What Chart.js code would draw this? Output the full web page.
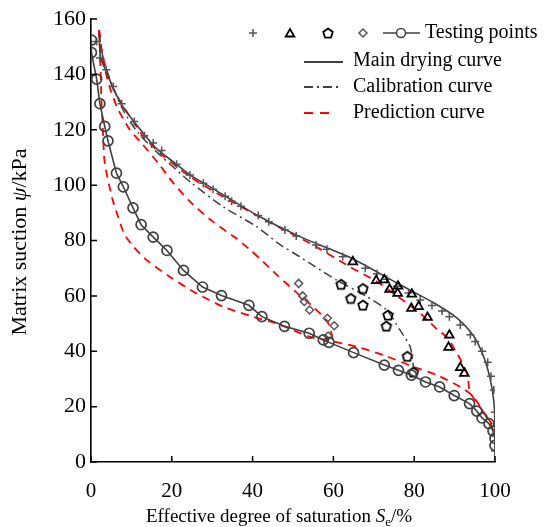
<!DOCTYPE html>
<html>
<head>
<meta charset="utf-8">
<script src="https://cdn.jsdelivr.net/npm/chart.js@4.4.0/dist/chart.umd.min.js"></script>
<style>
  html, body { margin: 0; padding: 0; background: #fff; }
  #wrap { width: 544px; height: 527px; }
</style>
</head>
<body>
<div id="wrap"><canvas id="chart" width="544" height="527"></canvas></div>
<script>
// tick labels
const xTicks = [0, 20, 40, 60, 80, 100];
const yTicks = [0, 20, 40, 60, 80, 100, 120, 140, 160];

// testing points (circles joined by a line)
const testX = [0.1, 0.1, 1.4, 2.2, 3.4, 4.2, 6.3, 8.0, 10.4, 12.4, 15.4, 18.8, 22.9, 27.6, 32.3, 39.1, 42.3, 47.9, 54.0, 57.5, 58.9, 65.0, 72.6, 76.1, 79.3, 82.8, 86.3, 89.9, 93.7, 95.5, 96.8, 98.5, 99.5, 100, 100];
const testY = [152.4, 147.9, 138.3, 129.4, 121.2, 116, 104.3, 99.4, 91.8, 85.7, 81.2, 76.4, 69.2, 63.2, 60.1, 56.6, 52.5, 49, 46.5, 44.1, 43.2, 39.5, 35, 33.1, 31.4, 28.9, 27.1, 24, 21.1, 18.4, 15.9, 13.9, 11.2, 8.5, 6];

// + markers along the main drying curve
const plusX = [1.4, 2.2, 3.8, 5.5, 7.6, 10.7, 13.2, 15.4, 17.5, 21.2, 24.5, 27.8, 30.2, 33.2, 34.8, 37.1, 41.4, 44.0, 48.0, 50.8, 55.7, 58.4, 62.3, 67.9, 70.8, 73.2, 75.7, 78.6, 81.5, 84.4, 86.9, 88.7, 91.4, 93.9, 95.1, 96.8, 98.2, 99.0, 99.7, 100, 100, 100];
const plusY = [151.9, 145.9, 141.7, 135.6, 129.4, 123, 117.8, 115.2, 112.5, 107.5, 103.7, 100.7, 98.5, 96, 94.2, 92.4, 89, 86.8, 83.8, 81.6, 78.4, 76.8, 74.1, 70, 68, 66, 63.5, 61, 58.5, 56.5, 54.5, 52.5, 49.5, 46, 43.5, 40, 36, 31, 26, 18, 10, 4];

// triangles
const triX = [64.8, 70.6, 72.6, 73.9, 76.0, 75.9, 79.4, 79.3, 81.1, 83.3, 88.7, 88.5, 91.4, 92.4];
const triY = [72.3, 65.5, 65.8, 62.4, 63.5, 60.9, 60.6, 55.5, 56.1, 52.2, 45.8, 41.4, 34.1, 32];

// pentagons
const pentX = [61.9, 67.3, 64.3, 67.3, 73.5, 73.1, 78.3, 79.8];
const pentY = [64.2, 62.7, 59.1, 56.7, 53.1, 49.1, 38.2, 32.5];

// diamonds
const diaX = [51.4, 52.4, 52.8, 54.1, 58.5, 60.2, 58.7];
const diaY = [64.5, 60.0, 58.0, 54.9, 51.9, 49.2, 45.5];

// main drying curve
const mainX = [2, 2.4, 3.8, 5.5, 7.6, 10.9, 12.9, 16, 20.8, 24.5, 30.7, 41, 51.7, 64.5, 76.5, 84.8, 90.6, 94.7, 97.2, 98.8, 99.7, 100, 100];
const mainY = [155, 146, 141, 135, 129, 122.4, 118.8, 113.5, 107.9, 103.7, 98.3, 89.2, 81.4, 73.6, 64, 57.5, 52, 45.5, 38, 30, 22, 13, 0];

// calibration curve
const calX = [2, 3, 5, 8, 11.7, 17.5, 24.7, 32.7, 41, 46.8, 51.7, 55, 60.8, 68.3, 73.2, 76.5, 79, 79.8];
const calY = [155, 146, 137, 127, 118.8, 110.3, 101, 92.2, 85, 78.5, 74.1, 71, 65.7, 59.7, 54.9, 47.6, 41.6, 34.4];

// prediction curves
const predUpX = [2, 2.6, 4.2, 5.9, 8, 10.9, 13, 17.5, 24.5, 32.7, 43.9, 54.2, 64.1, 70.8, 75.7, 81.5, 85.6, 88.1, 90.6, 93.1, 93.9, 99.7, 100];
const predUpY = [156, 149, 139.2, 133.8, 128.4, 122, 117.5, 111, 103, 95.8, 86.8, 79, 70.5, 65.1, 60, 53.7, 48, 45, 39.2, 32, 25, 12.7, 10];
const predMidX = [2, 3, 4.5, 6.5, 9.6, 12.5, 16.6, 20.4, 24.9, 30, 36.1, 39.4, 42, 46, 50.9, 55, 58.4, 59.6, 60];
const predMidY = [156, 145, 136, 128, 120, 115.2, 108, 100.7, 93.5, 87, 80.6, 76.6, 73.2, 67.6, 61.2, 56, 51, 46, 43.5];
const predLowX = [2, 2.3, 2.6, 3, 3.4, 5.3, 6.7, 8.2, 10.5, 13.8, 19.5, 26, 32.7, 40.2, 46, 54.2, 58.4, 65.8, 72.4, 79.8, 85.6, 91.4, 94.7, 98.8, 100];
const predLowY = [156, 145, 130, 118, 108, 95, 88.6, 82.5, 77.8, 72.9, 66.9, 61, 56.1, 52.4, 50, 45.2, 44, 41.6, 38.6, 34.4, 31.4, 27.1, 23.5, 13.9, 10];

const pts = (xs, ys) => xs.map((x, i) => ({ x: x, y: ys[i] }));

const FONT = "'Liberation Serif', 'Times New Roman', serif";
const GRAY = '#404040';
const RED = '#ff0000';

function pentagon(r, lw, color) {
  const size = Math.ceil(2 * r + 2 * lw + 2);
  const c = document.createElement('canvas');
  c.width = size; c.height = size;
  const g = c.getContext('2d');
  g.strokeStyle = color; g.lineWidth = lw;
  g.beginPath();
  for (let i = 0; i < 5; i++) {
    const a = -Math.PI / 2 + i * 2 * Math.PI / 5;
    const px = size / 2 + r * Math.cos(a), py = size / 2 + r * Math.sin(a) + 0.5;
    i ? g.lineTo(px, py) : g.moveTo(px, py);
  }
  g.closePath(); g.stroke();
  return c;
}
const pentImg = pentagon(5, 1.8, '#000');

// inward ticks, legend and axis titles
const extras = {
  id: 'extras',
  afterDraw(chart) {
    const ctx = chart.ctx, xs = chart.scales.x, ys = chart.scales.y, a = chart.chartArea;
    ctx.save();
    ctx.strokeStyle = '#000'; ctx.lineWidth = 1.5;
    ctx.beginPath();
    xTicks.forEach(v => { const p = xs.getPixelForValue(v); ctx.moveTo(p, a.bottom); ctx.lineTo(p, a.bottom - 6); });
    yTicks.forEach(v => { const p = ys.getPixelForValue(v); ctx.moveTo(a.left, p); ctx.lineTo(a.left + 6, p); });
    ctx.stroke();

    // legend
    const draw = Chart.helpers.drawPoint;
    ctx.fillStyle = 'rgba(0,0,0,0)';
    ctx.strokeStyle = '#555'; ctx.lineWidth = 1.5;
    draw(ctx, { pointStyle: 'cross', radius: 4, borderWidth: 1.5 }, 253, 33);
    ctx.strokeStyle = '#000'; ctx.lineWidth = 1.8;
    draw(ctx, { pointStyle: 'triangle', radius: 5, borderWidth: 1.8 }, 290, 34);
    ctx.drawImage(pentImg, 328 - pentImg.width / 2, 33 - pentImg.height / 2);
    ctx.strokeStyle = '#555'; ctx.lineWidth = 1.5;
    draw(ctx, { pointStyle: 'rectRot', radius: 4, borderWidth: 1.5 }, 363, 33);
    ctx.strokeStyle = GRAY;
    ctx.beginPath(); ctx.moveTo(383, 33); ctx.lineTo(420, 33); ctx.stroke();
    ctx.fillStyle = '#fff';
    draw(ctx, { pointStyle: 'circle', radius: 4.5, borderWidth: 1.5 }, 401, 33);

    ctx.lineWidth = 1.8; ctx.strokeStyle = GRAY;
    ctx.beginPath(); ctx.moveTo(304, 62); ctx.lineTo(343, 62); ctx.stroke();
    ctx.setLineDash([9, 4, 2, 4]);
    ctx.beginPath(); ctx.moveTo(304, 87); ctx.lineTo(338, 87); ctx.stroke();
    ctx.strokeStyle = RED; ctx.setLineDash([9, 7]);
    ctx.beginPath(); ctx.moveTo(304, 113); ctx.lineTo(334, 113); ctx.stroke();
    ctx.setLineDash([]);

    ctx.fillStyle = '#000';
    ctx.font = '20px ' + FONT;
    ctx.textBaseline = 'middle'; ctx.textAlign = 'left';
    ctx.fillText('Testing points', 425, 33);
    ctx.fillText('Main drying curve', 353, 61);
    ctx.fillText('Calibration curve', 353, 87);
    ctx.fillText('Prediction curve', 353, 113);

    // x title with italic S and subscript e
    ctx.textBaseline = 'alphabetic';
    const p1 = 'Effective degree of saturation ';
    ctx.font = '19px ' + FONT;
    const w1 = ctx.measureText(p1).width;
    ctx.font = 'italic 19px ' + FONT;
    const w2 = ctx.measureText('S').width;
    ctx.font = '13px ' + FONT;
    const w3 = ctx.measureText('e').width;
    ctx.font = '19px ' + FONT;
    const w4 = ctx.measureText('/%').width;
    let x0 = 279 - (w1 + w2 + w3 + w4) / 2;
    const base = 522;
    ctx.fillText(p1, x0, base); x0 += w1;
    ctx.font = 'italic 19px ' + FONT; ctx.fillText('S', x0, base); x0 += w2;
    ctx.font = '13px ' + FONT; ctx.fillText('e', x0, base + 4); x0 += w3;
    ctx.font = '19px ' + FONT; ctx.fillText('/%', x0, base);

    // y title, rotated, with italic psi
    ctx.save();
    ctx.translate(26, 242);
    ctx.rotate(-Math.PI / 2);
    const q1 = 'Matrix suction ';
    ctx.font = '22px ' + FONT;
    const v1 = ctx.measureText(q1).width;
    ctx.font = 'italic 22px ' + FONT;
    const v2 = ctx.measureText('ψ').width;
    ctx.font = '22px ' + FONT;
    const v3 = ctx.measureText('/kPa').width;
    let y0 = -(v1 + v2 + v3) / 2;
    ctx.fillText(q1, y0, 0); y0 += v1;
    ctx.font = 'italic 22px ' + FONT; ctx.fillText('ψ', y0, 0); y0 += v2;
    ctx.font = '22px ' + FONT; ctx.fillText('/kPa', y0, 0);
    ctx.restore();
    ctx.restore();
  }
};

const curve = (data, color, dash, w) => ({
  data: data, showLine: true, borderColor: color, borderWidth: w, borderDash: dash,
  pointRadius: 0, tension: 0.25, fill: false
});

new Chart(document.getElementById('chart').getContext('2d'), {
  type: 'scatter',
  data: {
    datasets: [
      { data: pts(testX, testY), showLine: true, tension: 0, borderColor: GRAY, borderWidth: 1.6,
        pointStyle: 'circle', pointRadius: 5, pointBorderWidth: 1.7, pointBorderColor: GRAY, pointBackgroundColor: 'rgba(0,0,0,0)' },
      { data: pts(triX, triY), pointStyle: 'triangle', pointRadius: 5, pointBorderWidth: 1.8, pointBorderColor: '#000', pointBackgroundColor: 'rgba(0,0,0,0)' },
      { data: pts(pentX, pentY), pointStyle: pentImg },
      { data: pts(diaX, diaY), pointStyle: 'rectRot', pointRadius: 4, pointBorderWidth: 1.5, pointBorderColor: '#555', pointBackgroundColor: 'rgba(0,0,0,0)' },
      { data: pts(plusX, plusY), pointStyle: 'cross', pointRadius: 4, pointBorderWidth: 1.5, pointBorderColor: '#555' },
      curve(pts(mainX, mainY), GRAY, [], 1.6),
      curve(pts(calX, calY), GRAY, [9, 4, 2, 4], 1.5),
      curve(pts(predUpX, predUpY), RED, [8, 6], 1.8),
      curve(pts(predMidX, predMidY), RED, [8, 6], 1.8),
      curve(pts(predLowX, predLowY), RED, [8, 6], 1.8)
    ]
  },
  options: {
    responsive: false,
    animation: false,
    layout: { padding: { top: 19, right: 49, left: 0, bottom: 0 } },
    plugins: { legend: { display: false }, tooltip: { enabled: false } },
    scales: {
      x: {
        type: 'linear', min: 0, max: 100,
        afterFit: s => { s.height = 65; },
        afterBuildTicks: s => { s.ticks = xTicks.map(v => ({ value: v })); },
        ticks: { padding: 17, color: '#000', font: { family: FONT, size: 21 } },
        grid: { display: false, drawTicks: false },
        border: { color: '#000', width: 1.6 }
      },
      y: {
        type: 'linear', min: 0, max: 160,
        afterFit: s => { s.width = 91; },
        afterBuildTicks: s => { s.ticks = yTicks.map(v => ({ value: v })); },
        ticks: { padding: 5, color: '#000', font: { family: FONT, size: 22 } },
        grid: { display: false, drawTicks: false },
        border: { color: '#000', width: 1.6 }
      }
    }
  },
  plugins: [extras]
});
</script>
</body>
</html>
